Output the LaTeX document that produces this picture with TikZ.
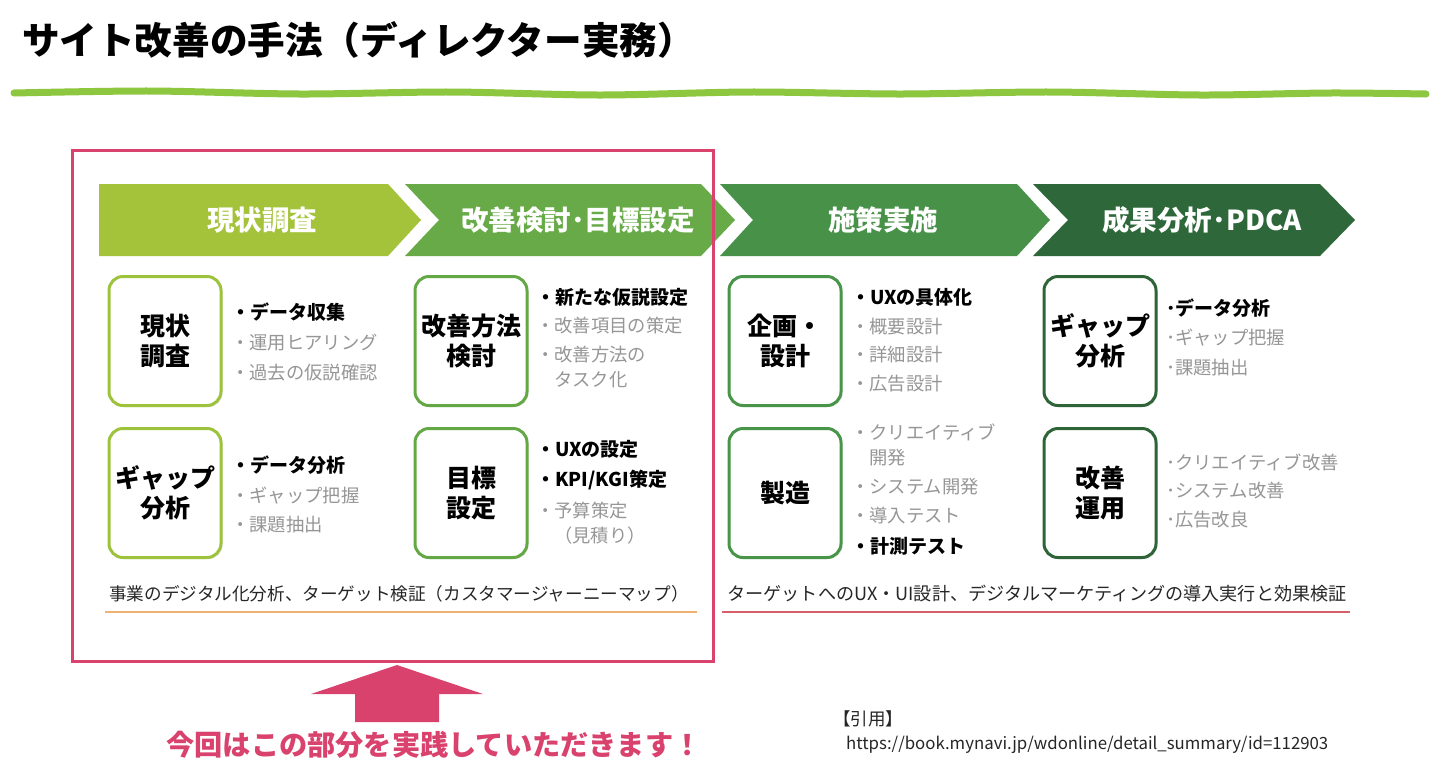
\documentclass[tikz,border=0pt]{standalone}
\usepackage{fontspec}
\setmainfont{Noto Sans CJK JP}
\usetikzlibrary{shadows}
\definecolor{chA}{RGB}{164,194,58}
\definecolor{chB}{RGB}{104,170,72}
\definecolor{chC}{RGB}{72,145,72}
\definecolor{chD}{RGB}{46,104,58}
\definecolor{bxA}{RGB}{157,194,60}
\definecolor{bxB}{RGB}{100,168,70}
\definecolor{bxC}{RGB}{72,148,72}
\definecolor{bxD}{RGB}{46,100,56}
\definecolor{wave}{RGB}{141,198,63}
\definecolor{pinkc}{RGB}{218,66,110}
\definecolor{grayt}{RGB}{150,150,150}
\definecolor{orangeline}{RGB}{240,178,112}
\definecolor{redline}{RGB}{214,96,106}
\begin{document}
\begin{tikzpicture}[x=1pt,y=-1pt,
  box/.style={draw, line width=3pt, rounded corners=14pt, fill=white,
    minimum width=112pt, minimum height=129pt, align=center, inner sep=0pt,
    font=\bfseries\fontsize{25}{30}\selectfont,
    drop shadow={opacity=0.18, shadow xshift=1.5pt, shadow yshift=-1.5pt}},
  blk/.style={anchor=west, inner sep=0pt, font=\bfseries\fontsize{19}{23}\selectfont},
  gry/.style={anchor=west, inner sep=0pt, text=grayt, font=\fontsize{18.3}{22}\selectfont},
  chlabel/.style={text=white, inner sep=0pt, font=\bfseries\fontsize{27.5}{32}\selectfont},
  caption/.style={inner sep=0pt, text=black!85}
]
\useasboundingbox (0,0) rectangle (1440,772);
\fill[white] (0,0) rectangle (1440,772);

% title
\node[anchor=west, inner sep=0pt, font=\bfseries\fontsize{37.6}{42}\selectfont] (title) at (22,40) {サイト改善の手法（ディレクター実務）};

% wavy green line
\draw[wave, line width=7pt, line cap=round] plot[smooth] coordinates {(14,93) (150,91) (300,94) (450,92) (600,95) (750,92) (900,94) (1050,92) (1200,95) (1330,93) (1426,94)};

% chevrons
\fill[chA] (99,184) -- (388,184) -- (421,220) -- (388,256) -- (99,256) -- cycle;
\fill[chB] (405,184) -- (701,184) -- (735,220) -- (701,256) -- (405,256) -- (439,220) -- cycle;
\fill[chC] (720,184) -- (1017,184) -- (1050,220) -- (1017,256) -- (720,256) -- (753,220) -- cycle;
\fill[chD] (1033,184) -- (1320,184) -- (1355,220) -- (1320,256) -- (1033,256) -- (1068,220) -- cycle;
\node[chlabel] (c1) at (262,220) {現状調査};
\node[chlabel] (c2) at (578,220) {改善検討･目標設定};
\node[chlabel] (c3) at (883,220) {施策実施};
\node[chlabel] (c4) at (1202,220) {成果分析･PDCA};

% boxes
\node[box, draw=bxA] (b11) at (165,341) {現状\\調査};
\node[box, draw=bxA] (b12) at (165,493) {ギャップ\\分析};
\node[box, draw=bxB] (b21) at (471,341) {改善方法\\検討};
\node[box, draw=bxB] (b22) at (471,493) {目標\\設定};
\node[box, draw=bxC] (b31) at (785,341) {企画・\\設計};
\node[box, draw=bxC] (b32) at (785,493) {製造};
\node[box, draw=bxD] (b41) at (1100,341) {ギャップ\\分析};
\node[box, draw=bxD] (b42) at (1100,493) {改善\\運用};

% column 1 bullets
\node[blk] (t111) at (231,312) {・データ収集};
\node[gry] (t112) at (231,343) {・運用ヒアリング};
\node[gry] (t113) at (231,373) {・過去の仮説確認};
\node[blk] (t121) at (231,465) {・データ分析};
\node[gry] (t122) at (231,496) {・ギャップ把握};
\node[gry] (t123) at (231,525) {・課題抽出};

% column 2 bullets
\node[blk] (t211) at (536,297) {・新たな仮説設定};
\node[gry] (t212) at (536,326) {・改善項目の策定};
\node[gry] (t213) at (536,355) {・改善方法の};
\node[gry] (t214) at (554,380) {タスク化};
\node[blk] (t221) at (536,449) {・UXの設定};
\node[blk] (t222) at (536,480) {・KPI/KGI策定};
\node[gry] (t223) at (536,511) {・予算策定};
\node[gry] (t224) at (554,536) {（見積り）};

% column 3 bullets
\node[blk] (t311) at (851,297) {・UXの具体化};
\node[gry] (t312) at (851,327) {・概要設計};
\node[gry] (t313) at (851,355) {・詳細設計};
\node[gry] (t314) at (851,384) {・広告設計};
\node[gry] (t321) at (851,432) {・クリエイティブ};
\node[gry] (t322) at (869,458) {開発};
\node[gry] (t323) at (851,487) {・システム開発};
\node[gry] (t324) at (851,516) {・導入テスト};
\node[blk] (t325) at (851,546) {・計測テスト};

% column 4 bullets
\node[blk] (t411) at (1166,308) {･データ分析};
\node[gry] (t412) at (1166,338) {･ギャップ把握};
\node[gry] (t413) at (1166,368) {･課題抽出};
\node[gry] (t421) at (1166,462) {･クリエイティブ改善};
\node[gry] (t422) at (1166,491) {･システム改善};
\node[gry] (t423) at (1166,520) {･広告改良};

% captions
\node[caption, font=\fontsize{17.6}{21}\selectfont] (cap1) at (399,594) {事業のデジタル化分析、ターゲット検証（カスタマージャーニーマップ）};
\draw[orangeline, line width=2pt] (105,612) -- (697,612);
\node[caption, font=\fontsize{18.1}{22}\selectfont] (cap2) at (1037,594) {ターゲットへのUX・UI設計、デジタルマーケティングの導入実行と効果検証};
\draw[redline, line width=2pt] (722,612) -- (1350,612);

% pink frame
\draw[pinkc, line width=3pt] (72,150) rectangle (713,661);

% up arrow
\fill[pinkc] (397,665) -- (483,694) -- (439,694) -- (439,722) -- (355,722) -- (355,694) -- (311,694) -- cycle;
\node[text=pinkc, inner sep=0pt, font=\bfseries\fontsize{28.2}{33}\selectfont] (msg) at (434,745) {今回はこの部分を実践していただきます！};

% citation
\node[anchor=west, inner sep=0pt, font=\fontsize{17.5}{21}\selectfont, text=black!85] (cite) at (833,719) {【引用】};
\node[anchor=west, inner sep=0pt, font=\fontsize{16.8}{20}\selectfont, text=black!85] (url) at (846,745) {https://book.mynavi.jp/wdonline/detail\_summary/id=112903};
\end{tikzpicture}
\end{document}
